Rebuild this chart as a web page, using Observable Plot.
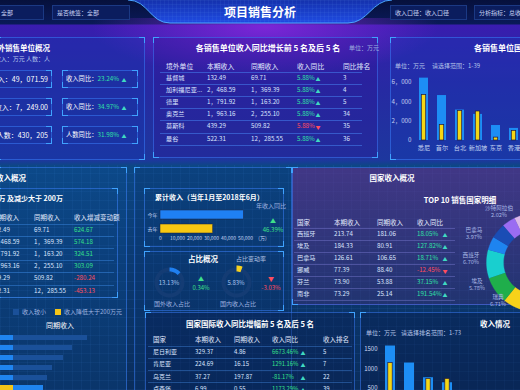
<!DOCTYPE html>
<html><head><meta charset="utf-8">
<script src="https://cdn.jsdelivr.net/npm/d3@7"></script>
<script src="https://cdn.jsdelivr.net/npm/@observablehq/plot@0.6"></script>
<style>
html,body{margin:0;padding:0}
body{width:520px;height:390px;overflow:hidden;position:relative;font-family:"Noto Sans CJK SC","Noto Sans",sans-serif;
background:linear-gradient(180deg,#081241 0,#0b1a57 24px,#3a1cb0 25px,#3221aa 40px,#262aa2 90px,#1d379e 160px,#0c4784 166px,#0b3b74 250px,#0a2d5c 390px);}
.a{position:absolute;white-space:nowrap;line-height:1}
</style></head><body>
<script>
const FONT='"Noto Sans CJK SC","Noto Sans",sans-serif';
const GREEN="#2fe0a6", RED="#ff4d5e", UP="#3fd9c2";
const fmtC=(v,p=2)=>d3.format(`,.${p}f`)(v).replace(/,/g,"，");
const fmtI=v=>d3.format(",")(v).replace(/,/g,"，");

// ---------------- data ----------------
const filterTexts=["全部","是否统签：全部","收入口径：收入口径","分析指标：总收入"];
const pageTitle="项目销售分析";

const kpiLabels=["总收入","境外收入","人数"];
const kpiValues=[49071.59,7249.00,430205];
const kpiRatioLabels=["收入同比","收入同比","人数同比"];
const kpiRatios=[23.24,34.97,31.98];

const unitHeaders=["境外单位","本期收入","同期收入","收入同比","同比排名"];
const unitNames=["基督城","加利福尼亚...","德里","奥克兰","莫斯科","曼谷"];
const unitCur=[132.49,2468.59,1791.92,1963.16,439.29,522.31];
const unitPrev=[69.71,1369.39,1163.20,2255.10,509.82,12285.55];
const unitYoY=[5.88,5.88,5.88,5.88,5.88,5.88];
const unitTrend=["up","up","up","up","down","up"];
const unitRank=[3,4,5,34,35,36];

const intlCities=["悉尼","首尔","台北","新加坡","东京","香港"];
const intlTotal=[6450,4650,3150,2700,1550,1250];
const intlPart=[4700,1600,3050,3000,300,1000];

const changeHeaders=["本期收入","同期收入","收入增减变动额"];
const changeAmount=[624.67,574.18,324.51,303.09,-280.24,-453.13];

const barLegend=["收入较小","收入降低大于200万元"];
const barCur=[130,130,130,130,130,130];
const barPrev=[870,720,630,520,470,430];
const barDrop=[false,false,false,false,false,true];

const cumLabels=["今年","去年"];
const cumValues=[49071.59,31000];
const cumYoY=46.39;

const shareLabels=["国外收入占比","国内收入占比"];
const shareValues=[13.13,5.83];
const shareChange=[0.34,-3.03];

const topHeaders=["国家","本期收入","同期收入","收入同比"];
const topCountries=["西班牙","埃及","巴拿马","挪威","芬兰","南非"];
const topCur=[213.74,184.33,126.61,77.39,73.90,73.29];
const topPrev=[181.06,80.91,106.65,88.40,53.88,25.14];
const topYoY=[18.05,127.82,18.71,-12.45,37.15,191.54];

const donutNames=["南非","肯尼亚","尼日利亚","瑞典","埃及","西班牙","巴拿马","挪威","沙特阿拉伯","芬兰","其他"];
const donutShares=[16.7,15.3,15.3,13.6,8.9,9.4,4.4,5.0,4.4,4.2,2.8];
const donutLabelNames=["沙特阿拉伯","巴拿马","西班牙","埃及","瑞典"];
const donutLabelPcts=["2.02%","3.97%","6.70%","5.78%","6.71%"];

const growthHeaders=["国家","本期收入","同期收入","收入同比","收入排名"];
const growthCountries=["尼日利亚","肯尼亚","乌克兰","卢森堡"];
const growthCur=[329.37,224.69,37.27,6.99];
const growthPrev=[4.86,16.15,197.87,0.55];
const growthYoY=[6673.46,1291.16,-81.17,1173.29];
const growthRank=[5,7,22,39];

const rankNames=["西班牙","埃及","巴拿马","挪威","芬兰","南非","瑞典","沙特阿拉伯"];
const rankTotal=[1590,1150,770,640,420,380,330,300];
const rankPart=[1150,300,740,740,250,200,150,100];

// ---------------- helpers ----------------
const R=document.body;
function el(tag,css,parent=R){const e=document.createElement(tag);e.style.cssText=css;parent.appendChild(e);return e;}
function T(x,y,s,o={}){
  const d=el("div","");d.className="a";d.textContent=s;
  d.style.left=x+"px";d.style.top=y+"px";
  d.style.fontSize=(o.fs||6.5)+"px";d.style.color=o.c||"#dbe5ff";
  if(o.b)d.style.fontWeight="bold";
  const tx=o.a==="m"?"-50%":o.a==="e"?"-100%":"0";
  d.style.transform=`translate(${tx},-50%)`;
  return d;
}
function F(x,y,w,h,o={}){
  const d=el("div",`position:absolute;box-sizing:border-box;left:${x}px;top:${y}px;width:${w}px;height:${h}px;border:1px solid ${o.bc||"rgba(60,130,255,0.5)"};${o.bg?"background:"+o.bg+";":""}`);
  const c=o.cc||"#3fa2ff",L=5;
  [["left","top"],["right","top"],["left","bottom"],["right","bottom"]].forEach(([h1,v1])=>{
    el("div",`position:absolute;${h1}:-1px;${v1}:-1px;width:${L}px;height:${L}px;border-${h1}:1.5px solid ${c};border-${v1}:1.5px solid ${c};`,d);
  });
  return d;
}
function hline(x1,x2,y,c){el("div",`position:absolute;left:${x1}px;top:${y}px;width:${x2-x1}px;height:1px;background:${c}`);}
function put(svg,x,y){svg.style.position="absolute";svg.style.left=x+"px";svg.style.top=y+"px";R.appendChild(svg);}
function arcPts(key,a0,a1,r0,r1){
  const n=Math.max(2,Math.ceil(Math.abs(a1-a0)/2)),pts=[];
  for(let i=0;i<=n;i++){const a=(a0+(a1-a0)*i/n)*Math.PI/180;pts.push({key,x:r1*Math.sin(a),y:r1*Math.cos(a)});}
  for(let i=n;i>=0;i--){const a=(a0+(a1-a0)*i/n)*Math.PI/180;pts.push({key,x:r0*Math.sin(a),y:r0*Math.cos(a)});}
  return pts;
}
const st={background:"transparent",color:"#c3d2f2",fontFamily:FONT,fontSize:"6px",overflow:"visible"};

// ---------------- background ----------------
el("div","position:absolute;left:0;top:0;width:520px;height:24px;background:linear-gradient(180deg,#06103c,#0a1a58)");
el("div","position:absolute;left:90px;top:18px;width:350px;height:60px;background:radial-gradient(ellipse at 50% 15%,rgba(140,40,225,0.8),rgba(140,40,225,0) 70%)");
el("div","position:absolute;left:0;top:165px;width:520px;height:225px;background-image:repeating-linear-gradient(0deg,rgba(90,160,255,0.07) 0 1px,transparent 1px 9px),repeating-linear-gradient(90deg,rgba(90,160,255,0.07) 0 1px,transparent 1px 9px)");

// header
const hdr=el("div","position:absolute;left:0;top:0;width:520px;height:26px");
const hp="M128,0 C148,0 150,23 170,23 L348,23 C368,23 372,0 392,0";
hdr.innerHTML=`<svg width="520" height="26" style="position:absolute;left:0;top:0"><defs><linearGradient id="hg" x1="0" y1="0" x2="0" y2="1"><stop offset="0" stop-color="#1431ad"/><stop offset="1" stop-color="#1f4be2"/></linearGradient><pattern id="gp" width="4" height="4" patternUnits="userSpaceOnUse"><path d="M4 0H0V4" fill="none" stroke="rgba(130,180,255,0.25)" stroke-width="0.5"/></pattern></defs><path d="${hp} Z" fill="url(#hg)"/><path d="${hp} Z" fill="url(#gp)"/><path d="${hp}" fill="none" stroke="#4aa6ff" stroke-width="1"/></svg>`;
[[-20,64],[52,78],[390,77],[474,60]].forEach(([x,w],i)=>{
  el("div",`position:absolute;box-sizing:border-box;left:${x}px;top:5px;width:${w}px;height:15px;background:#0b1d5e;border:1px solid #1b3984`);
  T(i===0?1:x+5,12.5,filterTexts[i],{fs:6,c:"#c8d4f4"});
});
T(260,12,pageTitle,{fs:12,b:true,c:"#fff",a:"m"});

// ---------------- frames ----------------
F(-5,37,150,123,{bg:"rgba(20,55,175,0.35)"});
F(153,37,225,121,{bg:"rgba(45,20,150,0.3)"});
F(390,37,140,123,{bg:"rgba(20,60,185,0.3)"});
F(-5,167,132,240,{bg:"rgba(10,80,150,0.25)"});
F(-5,188,123,110,{});
F(134,167,158,240,{bg:"rgba(8,50,110,0.25)"});
F(144,188,140,59,{});
F(144,251,140,60,{});
F(292,167,240,138,{bg:"linear-gradient(180deg,rgba(100,45,135,0.6),rgba(55,50,118,0.5))"});
F(145,312,210,90,{bg:"rgba(8,30,80,0.35)"});
F(360,312,170,90,{bg:"rgba(8,30,80,0.4)"});

// ---------------- top-left KPI ----------------
T(50,48,"境外销售单位概况",{fs:7.5,b:true,c:"#fff",a:"e"});
T(50,59,"收入：万元    人数：人",{fs:6,c:"#b7c7ee",a:"e"});
kpiValues.forEach((v,i)=>{
  const y=70+28*i;
  F(-10,y,62,18,{bg:"rgba(25,50,160,0.5)"});
  F(62,y,76,18,{bg:"rgba(25,50,160,0.5)"});
  T(48,y+9,kpiLabels[i]+"："+(i===2?fmtI(v):fmtC(v)),{fs:7,c:"#fff",a:"e"});
  const d=T(66,y+9,"",{fs:6.3,c:"#fff"});
  d.innerHTML=`${kpiRatioLabels[i]}：<span style="color:${GREEN}">${kpiRatios[i].toFixed(2)}%</span>`;
  T(124,y+9,"▲",{fs:5,c:UP,a:"m"});
});

// ---------------- top-center table ----------------
T(268,48,"各销售单位收入同比增长前 5 名及后 5 名",{fs:8,b:true,c:"#fff",a:"m"});
T(349,48,"单位：万元",{fs:6,c:"#9fb3e0"});
const ctCols=[166,207,251,297,343];
unitHeaders.forEach((h,j)=>T(ctCols[j],66,h,{fs:6.8,c:"#e4ebff"}));
for(let i=0;i<7;i++)hline(160,362,72+12.1*i,"rgba(70,130,240,0.55)");
unitNames.forEach((n,i)=>{
  const y=78+12.1*i,up=unitTrend[i]==="up";
  T(ctCols[0],y,n,{fs:6.2});
  T(ctCols[1],y,fmtC(unitCur[i]),{fs:6.2});
  T(ctCols[2],y,fmtC(unitPrev[i]),{fs:6.2});
  T(ctCols[3],y,unitYoY[i].toFixed(2)+"%",{fs:6.2,c:up?GREEN:RED});
  T(318,y,up?"▲":"▼",{fs:5,c:up?UP:RED,a:"m"});
  T(ctCols[4],y,String(unitRank[i]),{fs:6.2});
});

// ---------------- top-right bar chart ----------------
T(474,48,"各销售单位国际收入情况",{fs:8,b:true,c:"#fff"});
T(395,66,"单位：万元",{fs:6,c:"#b6c6ea"});
T(432,66,"请选择范围：1-39",{fs:6,c:"#b6c6ea"});
const intlData=intlCities.map((c,i)=>({city:c,total:intlTotal[i],part:intlPart[i]}));
put(Plot.plot({
  width:150,height:90,marginLeft:34,marginRight:8,marginTop:12,marginBottom:20,
  style:{...st,fontSize:"6.2px"},
  x:{domain:intlCities,paddingInner:0.5,paddingOuter:0.25,tickSize:0,tickPadding:5,label:null},
  y:{domain:[0,6000],ticks:[0,2000,4000,6000],tickFormat:fmtI,tickSize:0,tickPadding:3,label:null},
  marks:[
    Plot.barY(intlData,{x:"city",y:"total",fill:"#1d8ef5"}),
    Plot.barY(intlData,{x:"city",y:"part",fill:"#f5d714",stroke:"#241a3a",strokeWidth:0.7,insetLeft:2.3,insetRight:2.3})
  ]}),380,70);

// ---------------- middle-left table ----------------
T(26,178,"境外收入概况",{fs:7.5,b:true,c:"#fff",a:"e"});
T(63,198,"收入增加大于 200万 及减少大于 200万",{fs:7,b:true,c:"#fff",a:"e"});
const lmCols=[-9,34,74];
T(-7,217,changeHeaders[0],{fs:6.5,c:"#e4ebff"});
T(lmCols[1],217,changeHeaders[1],{fs:6.5,c:"#e4ebff"});
T(lmCols[2],217,changeHeaders[2],{fs:6.5,c:"#e4ebff"});
for(let i=0;i<7;i++)hline(0,114,224+12.1*i,"rgba(60,140,230,0.45)");
unitCur.forEach((v,i)=>{
  const y=230+12.1*i;
  T(lmCols[0],y,fmtC(v),{fs:6.2});
  T(lmCols[1],y,fmtC(unitPrev[i]),{fs:6.2});
  T(lmCols[2],y,changeAmount[i].toFixed(2),{fs:6.2,c:changeAmount[i]>=0?"#35e08a":RED});
});

// ---------------- bottom-left bars ----------------
el("div","position:absolute;left:13px;top:309px;width:6px;height:6px;background:#1a5099");
T(22,312,barLegend[0],{fs:6,c:"#9fb3e0"});
el("div","position:absolute;left:55px;top:309px;width:6px;height:6px;background:#f5c518");
T(64,312,barLegend[1],{fs:6,c:"#9fb3e0"});
T(60,325,"同期收入",{fs:7,c:"#fff",a:"m"});
const lbData=unitNames.map((n,i)=>({name:n,cur:barCur[i],prev:barPrev[i],g:barDrop[i]?"drop":"normal"}));
put(Plot.plot({
  width:128,height:62,marginLeft:0,marginRight:28,marginTop:4.5,marginBottom:2.5,
  style:st,
  x:{domain:[0,1000],axis:null},
  y:{domain:unitNames,paddingInner:0.5,paddingOuter:0,axis:null},
  color:{domain:["prev-normal","prev-drop","cur-normal","cur-drop"],range:["#1a5099","#1f84f0","#1f84f0","#f5c518"]},
  marks:[
    Plot.barX(lbData,{y:"name",x:"prev",fill:d=>"prev-"+d.g}),
    Plot.barX(lbData,{y:"name",x:"cur",fill:d=>"cur-"+d.g})
  ]}),0,330);

// ---------------- center: cumulative ----------------
T(155,197,"累计收入（当年1月至2018年6月）",{fs:7,b:true,c:"#fff"});
T(256,206,"年收入同比",{fs:6,c:"#9fb3e0"});
T(273,220.5,"▲",{fs:6,c:"#3ee08a",a:"m"});
T(273,229.5,cumYoY.toFixed(2)+"%",{fs:6,c:"#3ee08a",a:"m"});
const cumData=cumLabels.map((l,i)=>({label:l,value:cumValues[i]}));
put(Plot.plot({
  width:150,height:42,marginLeft:20,marginRight:28,marginTop:4.5,marginBottom:14,
  style:{...st,fontSize:"5px"},
  x:{domain:[0,60000],ticks:d3.range(0,60001,10000),tickFormat:d=>d===60000?"(万)":d3.format(",")(d),tickSize:0,tickPadding:3,label:null},
  y:{domain:cumLabels,paddingInner:0.38,paddingOuter:0,tickSize:0,tickPadding:3,label:null},
  color:{domain:cumLabels,range:["#1f80f4","#f7c812"]},
  marks:[Plot.barX(cumData,{y:"label",x:"value",fill:"label",stroke:"#1b2040",strokeWidth:0.5})]
}),140,205);

// ---------------- center: share rings ----------------
T(203,259,"占比概况",{fs:7.5,b:true,c:"#fff",a:"m"});
T(251,259,"占比变动率",{fs:6,c:"#b0c0e0",a:"m"});
const ringColors=["#1f7ff0","#f5d020"];
const ringCx=[169,236];
shareValues.forEach((v,i)=>{
  const thick=i===1?[11,17]:[11,15];
  const pts=[...arcPts("track",0,360,11,15),...arcPts("value",0,v*3.6,thick[0],thick[1])];
  put(Plot.plot({
    width:40,height:40,margin:0,style:st,
    x:{domain:[-20,20],axis:null},y:{domain:[-20,20],axis:null},
    color:{domain:["track","value"],range:["#143c74",ringColors[i]]},
    marks:[Plot.line(pts,{x:"x",y:"y",z:"key",fill:"key",stroke:"none"})]
  }),ringCx[i]-20,262);
  T(ringCx[i],283,v.toFixed(2)+"%",{fs:6,c:"#a8c4f0",a:"m"});
  T(172+66*i,304,shareLabels[i],{fs:6,c:"#9fb3e0",a:"m"});
});
T(201,279,"▲",{fs:6,c:"#3ee08a",a:"m"});
T(201,288,shareChange[0].toFixed(2)+"%",{fs:6,c:"#3ee08a",a:"m"});
T(271,279,"▼",{fs:6,c:RED,a:"m"});
T(271,288,shareChange[1].toFixed(2)+"%",{fs:6,c:RED,a:"m"});

// ---------------- right-middle: top 10 ----------------
T(392,178,"国家收入概况",{fs:7.5,b:true,c:"#fff",a:"m"});
T(460,200,"TOP 10  销售国家明细",{fs:7.5,b:true,c:"#fff",a:"m"});
const rmCols=[297,334,377,417];
topHeaders.forEach((h,j)=>T(rmCols[j],222,h,{fs:6.5,c:"#e4ebff"}));
for(let i=0;i<7;i++)hline(294,455,228+12*i,"rgba(130,130,220,0.4)");
topCountries.forEach((n,i)=>{
  const y=234+12*i,up=topYoY[i]>=0;
  T(rmCols[0],y,n,{fs:6.2});
  T(rmCols[1],y,topCur[i].toFixed(2),{fs:6.2});
  T(rmCols[2],y,topPrev[i].toFixed(2),{fs:6.2});
  T(rmCols[3],y,topYoY[i].toFixed(2)+"%",{fs:6.2,c:up?GREEN:RED});
  T(445,y,up?"▲":"▼",{fs:5,c:up?UP:RED,a:"m"});
});
const donutColors=["#38b6f5","#ff8a3d","#e85d75","#f7d21a","#1fae4b","#19cfcf","#1e84f0","#1a4db5","#9a6cf2","#dcb8e8","#5ad0ff"];
const pie=d3.pie().sort(null).value(d=>d)(donutShares);
const donutPts=pie.flatMap((p,i)=>arcPts(donutNames[i],p.startAngle*180/Math.PI,p.endAngle*180/Math.PI,32,49));
put(Plot.plot({
  width:100,height:100,margin:0,style:st,
  x:{domain:[-50,50],axis:null},y:{domain:[-50,50],axis:null},
  color:{domain:donutNames,range:donutColors},
  marks:[Plot.line(donutPts,{x:"x",y:"y",z:"key",fill:"key",stroke:"key",strokeWidth:0.3})]
}),485,212);
const dlPos=[[499,209],[474,231],[471,256],[477,282],[498,297.5]];
donutLabelNames.forEach((n,i)=>{
  T(dlPos[i][0],dlPos[i][1],n,{fs:5.6,c:"#a9b8e6",a:"m"});
  T(dlPos[i][0],dlPos[i][1]+7,donutLabelPcts[i],{fs:5.6,c:"#a9b8e6",a:"m"});
});

// ---------------- center-bottom table ----------------
T(250,324,"国家国际收入同比增幅前 5 名及后 5 名",{fs:7.5,b:true,c:"#fff",a:"m"});
const cbCols=[153,195,234,272,323];
growthHeaders.forEach((h,j)=>T(cbCols[j],339,h,{fs:6.5,c:"#e4ebff"}));
for(let i=0;i<5;i++)hline(148,352,345.5+12.3*i,"rgba(70,140,230,0.4)");
growthCountries.forEach((n,i)=>{
  const y=352+12.3*i;
  T(cbCols[0],y,n,{fs:6});
  T(cbCols[1],y,growthCur[i].toFixed(2),{fs:6});
  T(cbCols[2],y,growthPrev[i].toFixed(2),{fs:6});
  T(cbCols[3],y,growthYoY[i].toFixed(2)+"%",{fs:5.8,c:"#35e08a"});
  T(303,y,"▲",{fs:5,c:UP,a:"m"});
  T(cbCols[4],y,String(growthRank[i]),{fs:6});
});

// ---------------- bottom-right bars ----------------
T(495,324,"收入情况",{fs:7.5,b:true,c:"#fff",a:"m"});
T(366,333,"单位：万元",{fs:6,c:"#b6c6ea"});
T(401,333,"请选择排名范围：1-73",{fs:6,c:"#b6c6ea"});
const rankData=rankNames.map((n,i)=>({name:n,total:rankTotal[i],part:rankPart[i]}));
put(Plot.plot({
  width:180,height:100,marginLeft:19,marginRight:6,marginTop:19,marginBottom:23,
  style:{...st,fontSize:"6px",color:"#d0dcf6"},
  x:{domain:rankNames,paddingInner:0.5,paddingOuter:0.27,axis:null},
  y:{domain:[0,1500],ticks:[500,1000,1500],tickFormat:d=>String(d),tickSize:0,tickPadding:2,label:null},
  marks:[
    Plot.barY(rankData,{x:"name",y:"total",fill:"#1d8ef5"}),
    Plot.barY(rankData,{x:"name",y:"part",fill:"#f5d714",stroke:"#241a3a",strokeWidth:0.7,insetLeft:2.8,insetRight:2.8})
  ]}),360,330);
</script>
</body></html>
